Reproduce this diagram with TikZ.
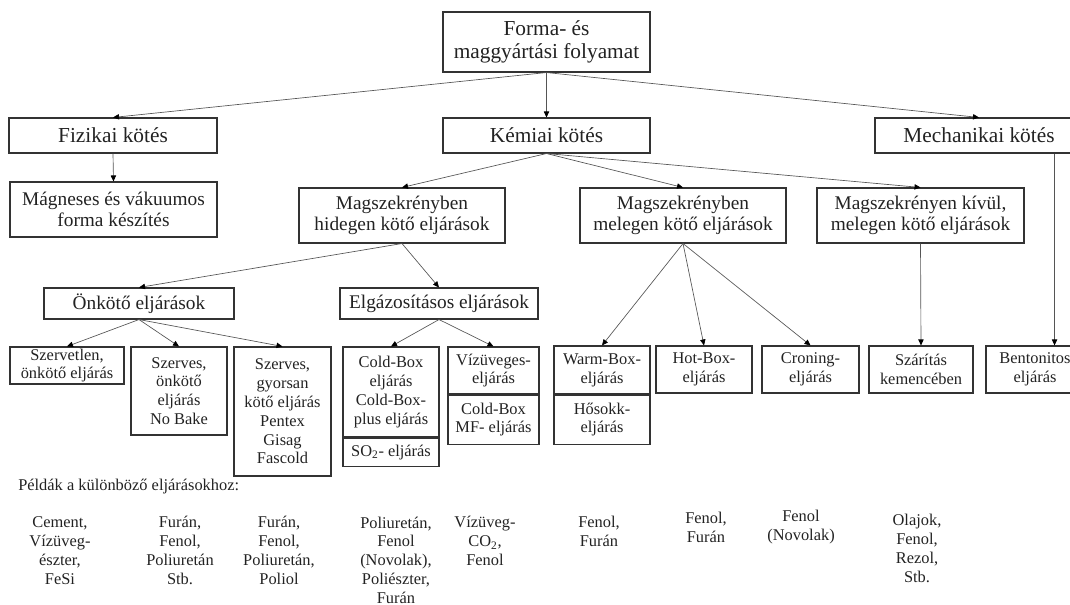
\documentclass[tikz,border=0pt]{standalone}
\usepackage{fontspec}
\setmainfont{Liberation Serif}
\usetikzlibrary{arrows.meta,positioning}
\definecolor{ink}{RGB}{34,34,34}
\definecolor{frame}{RGB}{51,51,51}
\definecolor{wire}{RGB}{85,85,85}

\begin{document}
\begin{tikzpicture}[x=0.75pt, y=-0.75pt,
    box/.style={draw=frame, line width=0.8pt, inner sep=0pt, align=center, text=ink},
    sz/.style 2 args={minimum width=#1*0.75pt, minimum height=#2*0.75pt},
    fbig/.style={font=\fontsize{16}{17.5}\selectfont},
    fmid/.style={font=\fontsize{14.5}{16.3}\selectfont},
    fsmall/.style={font=\fontsize{12.3}{14.1}\selectfont},
    arr/.style={draw=wire, line width=0.5pt, -{Triangle[length=4.5pt, width=4pt, color=black]}},
    note/.style={fsmall, text=ink, align=center, inner sep=0pt}]
      \useasboundingbox (0,0) rectangle (1070,605);
      \clip (0,0) rectangle (1070,605);

      % Main levels
      \node[box, fbig, sz={207}{60}] (forma) at (546.5,42) {Forma- és\\maggyártási folyamat};
      \node[box, fbig, sz={208}{35}] (fizikai) at (113,135.5) {Fizikai kötés};
      \node[box, fbig, sz={207}{35}] (kemiai) at (546.5,135.5) {Kémiai kötés};
      \node[box, fbig, sz={208}{35}] (mechanikai) at (979,135.5) {Mechanikai kötés};

      % Process groups
      \node[box, fmid, sz={207}{55}] (magneses) at (113.5,209.5) {Mágneses és vákuumos\\forma készítés};
      \node[box, fmid, sz={206}{55}] (hidegen) at (402,215.5) {Magszekrényben\\hidegen kötő eljárások};
      \node[box, fmid, sz={206}{55}] (melegen) at (683,215.5) {Magszekrényben\\melegen kötő eljárások};
      \node[box, fmid, sz={207}{55}] (kivul) at (920.5,215.5) {Magszekrényen kívül,\\melegen kötő eljárások};
      \node[box, fmid, sz={190}{31}] (onkoto) at (139,303.5) {Önkötő eljárások};
      \node[box, fmid, sz={198}{31}] (elgaz) at (439,303.5) {Elgázosításos eljárások};

      % Processes
      \node[box, fsmall, sz={114}{37}] (szervetlen) at (67,365.5) {Szervetlen,\\önkötő eljárás};
      \node[box, fsmall, sz={96}{88}] (szerves) at (179,391) {Szerves,\\önkötő\\eljárás\\No Bake};
      \node[box, fsmall, sz={97}{129}] (gyorsan) at (282.5,411.5) {Szerves,\\gyorsan\\kötő eljárás\\Pentex\\Gisag\\Fascold};
      \node[box, fsmall, sz={96}{90}] (coldbox) at (391,392) {Cold-Box\\eljárás\\Cold-Box-\\plus eljárás};
      \node[box, fsmall, sz={96}{28}, below=0pt of coldbox] (sotwo) {SO\textsubscript{2}- eljárás};
      \node[box, fsmall, sz={91}{47}] (vizuveges) at (493.5,370.5) {Vízüveges-\\eljárás};
      \node[box, fsmall, sz={91}{49}, below=0pt of vizuveges] (coldmf) {Cold-Box\\MF- eljárás};
      \node[box, fsmall, sz={96}{48}] (warmbox) at (602,370) {Warm-Box-\\eljárás};
      \node[box, fsmall, sz={96}{49}, below=0pt of warmbox] (hosokk) {Hősokk-\\eljárás};
      \node[box, fsmall, sz={96}{47}] (hotbox) at (704,369.5) {Hot-Box-\\eljárás};
      \node[box, fsmall, sz={97}{47}] (croning) at (810.5,369.5) {Croning-\\eljárás};
      \node[box, fsmall, sz={104}{47}] (szaritas) at (921,369.5) {Szárítás\\kemencében};
      \node[box, fsmall, sz={98}{47}] (bentonitos) at (1035,369.5) {Bentonitos\\eljárás};

      % Arrows
      \draw[arr] (forma.south) -- (fizikai.north);
      \draw[arr] (forma.south) -- (kemiai.north);
      \draw[arr] (forma.south) -- (mechanikai.north);
      \draw[arr] (fizikai.south) -- (magneses.north);
      \draw[arr] (kemiai.south) -- (hidegen.north);
      \draw[arr] (kemiai.south) -- (melegen.north);
      \draw[arr] (kemiai.south) -- (kivul.north);
      \draw[arr] (hidegen.south) -- (onkoto.north);
      \draw[arr] (hidegen.south) -- (elgaz.north);
      \draw[arr] (onkoto.south) -- (szervetlen.north);
      \draw[arr] (onkoto.south) -- (szerves.north);
      \draw[arr] (onkoto.south) -- (gyorsan.north);
      \draw[arr] (elgaz.south) -- (coldbox.north);
      \draw[arr] (elgaz.south) -- (vizuveges.north);
      \draw[arr] (melegen.south) -- (warmbox.north);
      \draw[arr] (melegen.south) -- (hotbox.north);
      \draw[arr] (melegen.south) -- (croning.north);
      \draw[arr] (kivul.south) -- (szaritas.north);
      \draw[arr] ([shift={(-29,0)}]mechanikai.south east) -- ([shift={(-30,0)}]bentonitos.north east);

      % Examples
      \node[note, anchor=west] (peldak) at (18,487) {Példák a különböző eljárásokhoz:};
      \node[note] (exszervetlen) at (60,550.5) {Cement,\\Vízüveg-\\észter,\\FeSi};
      \node[note] (exszerves) at (180,550.5) {Furán,\\Fenol,\\Poliuretán\\Stb.};
      \node[note] (exgyorsan) at (279,550.5) {Furán,\\Fenol,\\Poliuretán,\\Poliol};
      \node[note] (excoldbox) at (396,560) {Poliuretán,\\Fenol\\(Novolak),\\Poliészter,\\Furán};
      \node[note] (exvizuveg) at (485,541) {Vízüveg-\\CO\textsubscript{2},\\Fenol};
      \node[note] (exwarmbox) at (599,531.5) {Fenol,\\Furán};
      \node[note] (exhotbox) at (706,527) {Fenol,\\Furán};
      \node[note] (excroning) at (801,527) {Fenol\\(Novolak)};
      \node[note] (exszaritas) at (917,548.5) {Olajok,\\Fenol,\\Rezol,\\Stb.};
    \end{tikzpicture}
\end{document}
